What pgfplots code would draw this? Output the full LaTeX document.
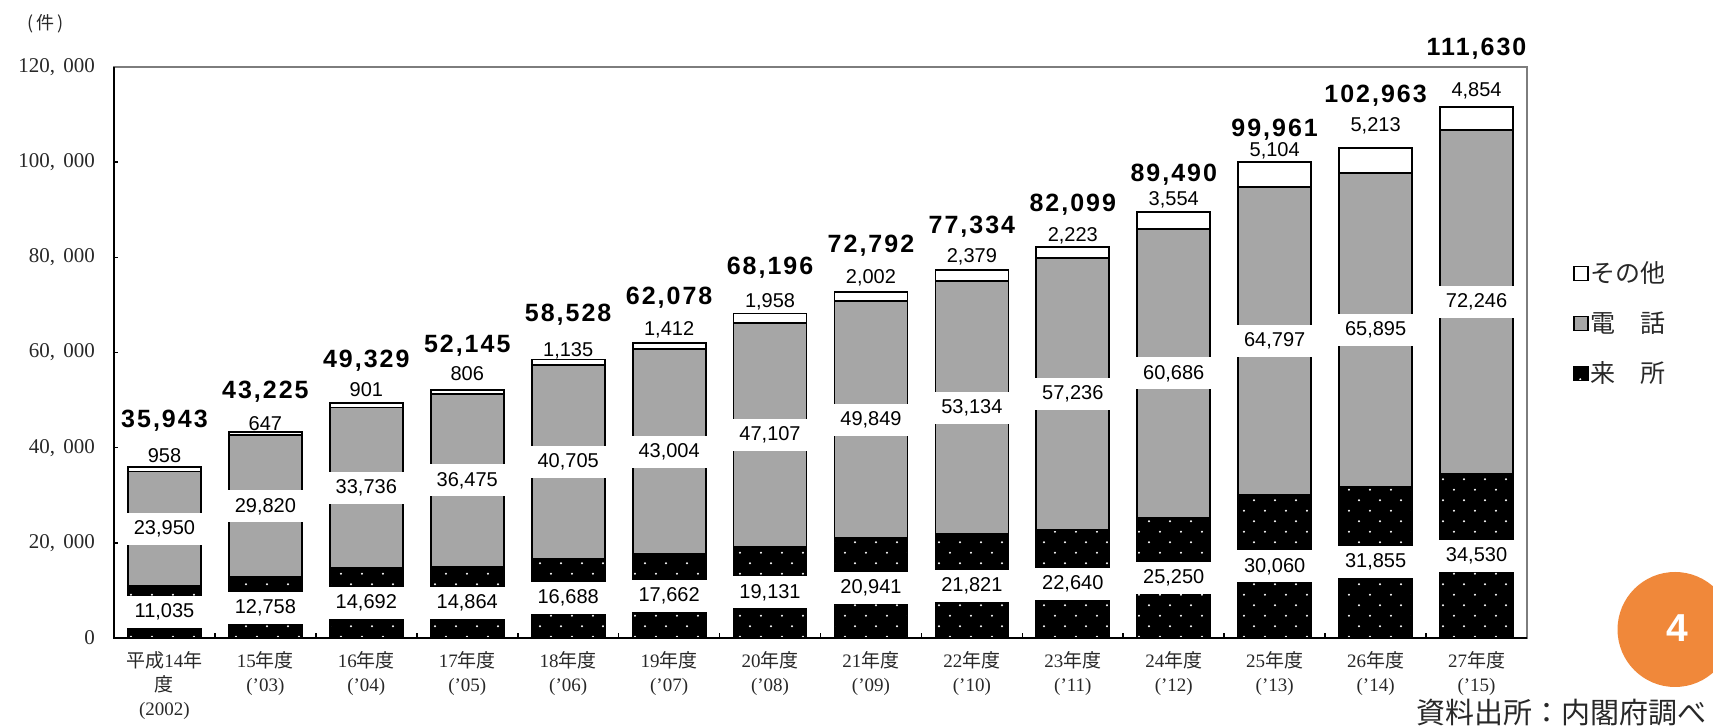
\documentclass[border=0pt]{standalone}
\usepackage{fontspec}
\setmainfont{Liberation Serif}
\newfontfamily\cjk{Noto Sans CJK JP}
\newfontfamily\arial{Liberation Sans}
\newfontfamily\totfont{Liberation Sans Bold}[LetterSpace=8]
\usepackage{pgfplots}
\usepackage{pgfplotstable}
\pgfplotsset{compat=1.18}
\usetikzlibrary{patterns.meta}

\definecolor{barGray}{RGB}{166,166,166}
\definecolor{frameGray}{RGB}{125,125,125}
\definecolor{accentOrange}{RGB}{240,136,58}
\definecolor{txt}{RGB}{40,40,40}

\tikzdeclarepattern{
  name=wdots,
  type=uncolored,
  bounding box={(0pt,0pt) and (10.5pt,10.7pt)},
  tile size={(10.5pt,10.7pt)},
  code={
    \fill (2.6pt,2.7pt) circle (0.55pt);
    \fill (7.85pt,8.05pt) circle (0.55pt);
  }
}

% lai = 来所, den = 電話, oth = その他; so/to = label offsets (pt) above bar top
\pgfplotstableread{
x lai den oth so to
0 11035 23950 958 5.5 23
1 12758 29820 647 4.5 20.5
2 14692 33736 901 7 21.25
3 14864 36475 806 8 22
4 16688 40705 1135 4.5 22.25
5 17662 43004 1412 6.3 22.3
6 19131 47107 1958 6 22.75
7 20941 49849 2002 7 22.8
8 21821 53134 2379 6.5 21.5
9 22640 57236 2223 6 21.5
10 25250 60686 3554 6 18.5
11 30060 64797 5104 6 16.5
12 31855 65895 5213 11 26
13 34530 72246 4854 8 29
}\data

\newcommand{\fy}[2]{{\rmfamily #1}年度\\{\rmfamily (’#2)}}
\newcommand{\cm}[2]{#1,\hspace{0.4em}#2}
\newcommand{\valfmt}{\pgfmathprintnumber[fixed,precision=0,1000 sep={,},assume math mode=true]{\pgfplotspointmeta}}

\begin{document}
\begin{tikzpicture}
\useasboundingbox (0,0) rectangle (856.5pt,363.5pt);
\begin{axis}[
  at={(57pt,44.5pt)}, anchor=south west,
  scale only axis, width=706.5pt, height=285.5pt,
  xmin=-0.5, xmax=13.5, ymin=0, ymax=120000,
  clip=false,
  scaled y ticks=false,
  axis line style={draw=frameGray, line width=1pt},
  tick align=inside,
  xtick={0,...,13},
  xticklabels={
    {平成{\rmfamily 14}年\\度\\{\rmfamily (2002)}},
    {\fy{15}{03}},{\fy{16}{04}},{\fy{17}{05}},{\fy{18}{06}},{\fy{19}{07}},
    {\fy{20}{08}},{\fy{21}{09}},{\fy{22}{10}},{\fy{23}{11}},{\fy{24}{12}},
    {\fy{25}{13}},{\fy{26}{14}},{\fy{27}{15}}},
  major x tick style={draw=none},
  minor xtick={0.5,1.5,...,12.5},
  minor x tick style={draw=black, line width=0.8pt},
  minor tick length=2.5pt,
  major tick length=2pt,
  xtick pos=lower, ytick pos=left,
  ytick={0,20000,40000,60000,80000,100000,120000},
  yticklabels={0,{\cm{20}{000}},{\cm{40}{000}},{\cm{60}{000}},{\cm{80}{000}},{\cm{100}{000}},{\cm{120}{000}}},
  y tick style={draw=black, line width=0.8pt},
  yticklabel style={font=\fontsize{10.5}{12}\selectfont, text=txt, xshift=-6pt},
  xticklabel style={font=\cjk\fontsize{9.5}{12}\selectfont, align=center, text=txt, yshift=-3pt},
  legend style={at={(1.0326,0.663)}, anchor=north west, draw=none, fill=none,
    inner sep=0pt, row sep=11pt, font=\cjk\fontsize{12.5}{15}\selectfont, text=txt,
    nodes={inner sep=1pt}},
  legend cell align=left,
]
% bars (drawn as overlapping cumulative bars)
\addplot[ybar, bar width=36.5pt, bar shift=0pt, draw=black, line width=0.9pt, fill=white,
  legend image code/.code={\draw[black, line width=0.6pt, fill=white] (0pt,-3.5pt) rectangle (7pt,3.5pt);}]
  table[x=x, y expr=\thisrow{lai}+\thisrow{den}+\thisrow{oth}] {\data};
\addlegendentry{その他}
\addplot[ybar, bar width=36.5pt, bar shift=0pt, draw=black, line width=0.9pt, fill=barGray,
  legend image code/.code={\draw[black, line width=0.6pt, fill=barGray] (0pt,-3.5pt) rectangle (7pt,3.5pt);}]
  table[x=x, y expr=\thisrow{lai}+\thisrow{den}] {\data};
\addlegendentry{電　話}
\addplot[ybar, bar width=36.5pt, bar shift=0pt, draw=black, line width=0.9pt, fill=black,
  postaction={pattern=wdots, pattern color=white},
  legend image code/.code={\draw[black, line width=0.6pt, fill=black] (0pt,-3.5pt) rectangle (7pt,3.5pt);}]
  table[x=x, y=lai] {\data};
\addlegendentry{来　所}

% value labels
\addplot[draw=none, mark=none, forget plot, point meta=explicit,
  nodes near coords={\valfmt},
  nodes near coords style={anchor=center, fill=white, inner sep=0pt, minimum width=37.5pt,
    minimum height=16pt, font=\arial\fontsize{10}{12}\selectfont, text=black}]
  table[x=x, y expr=\thisrow{lai}/2, meta=lai] {\data};
\addplot[draw=none, mark=none, forget plot, point meta=explicit,
  nodes near coords={\valfmt},
  nodes near coords style={anchor=center, fill=white, inner sep=0pt, minimum width=37.5pt,
    minimum height=16pt, font=\arial\fontsize{10}{12}\selectfont, text=black}]
  table[x=x, y expr=\thisrow{lai}+\thisrow{den}/2, meta=den] {\data};
\addplot[draw=none, mark=none, forget plot, point meta=explicit,
  visualization depends on={\thisrow{so} \as \soff},
  nodes near coords={\valfmt},
  nodes near coords style={anchor=center, yshift=\soff pt, inner sep=0pt,
    font=\arial\fontsize{10}{12}\selectfont, text=black}]
  table[x=x, y expr=\thisrow{lai}+\thisrow{den}+\thisrow{oth}, meta=oth] {\data};
\addplot[draw=none, mark=none, forget plot, point meta=explicit,
  visualization depends on={\thisrow{to} \as \toff},
  nodes near coords={\valfmt},
  nodes near coords style={anchor=center, yshift=\toff pt, inner sep=0pt,
    font=\totfont\fontsize{12.5}{14}\selectfont, text=black}]
  table[x=x, y expr=\thisrow{lai}+\thisrow{den}+\thisrow{oth}, meta expr=\thisrow{lai}+\thisrow{den}+\thisrow{oth}] {\data};

\draw[black, line width=1pt] (rel axis cs:0,1) -- (rel axis cs:0,0) -- (rel axis cs:1,0);
\end{axis}
\node[font=\cjk\fontsize{9}{10}\selectfont, text=txt] at (23pt,351.5pt) {(\hspace{1.5pt}件\hspace{1.5pt})};
\fill[accentOrange] (837.5pt,48.75pt) circle (28.75pt);
\node[font=\arial\bfseries\fontsize{19.5}{22}\selectfont, text=white] at (838.5pt,49.5pt) {4};
\node[font=\cjk\fontsize{14.5}{16}\selectfont, text=txt] at (780.75pt,7pt) {資料出所：内閣府調べ};
\end{tikzpicture}
\end{document}
